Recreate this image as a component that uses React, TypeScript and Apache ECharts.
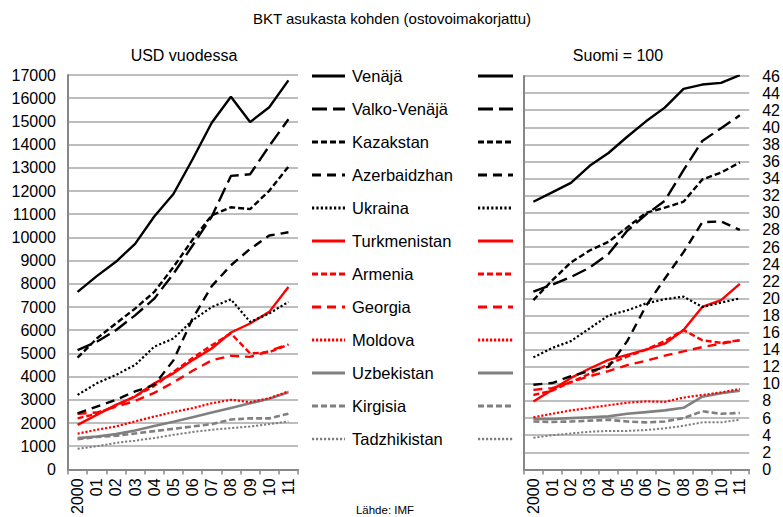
import React, { useEffect, useRef } from "react";
import * as echarts from "echarts";

const years = ["2000", "01", "02", "03", "04", "05", "06", "07", "08", "09", "10", "11"];
const countries = [
  "Venäjä", "Valko-Venäjä", "Kazakstan", "Azerbaidzhan", "Ukraina", "Turkmenistan",
  "Armenia", "Georgia", "Moldova", "Uzbekistan", "Kirgisia", "Tadzhikistan",
];

// USD vuodessa
const usdVenaja = [7650, 8330, 8950, 9720, 10900, 11870, 13370, 14940, 16060, 14970, 15610, 16770];
const usdValko = [5140, 5500, 6000, 6640, 7360, 8430, 9650, 10900, 12650, 12720, 13940, 15090];
const usdKazak = [4815, 5640, 6290, 6930, 7650, 8720, 9900, 10950, 11300, 11220, 12010, 13050];
const usdAzer = [2420, 2710, 3000, 3360, 3640, 4700, 6500, 7900, 8800, 9500, 10080, 10220];
const usdUkraina = [3210, 3710, 4070, 4500, 5290, 5640, 6430, 7000, 7330, 6360, 6720, 7220];
const usdTurkm = [1920, 2350, 2780, 3140, 3710, 4140, 4710, 5210, 5900, 6290, 6790, 7860];
const usdArmenia = [2200, 2400, 2750, 3150, 3600, 4200, 4800, 5350, 5860, 5000, 5050, 5380];
const usdGeorgia = [2400, 2450, 2700, 2950, 3300, 3750, 4250, 4700, 4900, 4850, 5100, 5400];
const usdMoldova = [1540, 1710, 1850, 2070, 2280, 2470, 2640, 2850, 3000, 2900, 3070, 3360];
const usdUzbek = [1350, 1420, 1520, 1680, 1870, 2050, 2250, 2450, 2650, 2850, 3050, 3330];
const usdKirg = [1300, 1400, 1450, 1550, 1650, 1750, 1850, 1950, 2150, 2200, 2200, 2400];
const usdTadz = [890, 1000, 1140, 1240, 1350, 1490, 1610, 1710, 1780, 1850, 1950, 2070];

// Suomi = 100
const fiVenaja = [31.3, 32.4, 33.5, 35.5, 37.0, 38.9, 40.7, 42.3, 44.5, 45.0, 45.2, 46.1];
const fiValko = [20.8, 21.6, 22.5, 23.6, 25.2, 27.9, 29.8, 31.4, 35.0, 38.4, 39.9, 41.4];
const fiKazak = [19.8, 22.1, 24.2, 25.6, 26.6, 28.3, 30.0, 30.6, 31.3, 33.9, 34.7, 35.9];
const fiAzer = [9.9, 10.1, 10.9, 11.5, 12.0, 15.0, 19.1, 22.3, 25.4, 28.9, 29.0, 28.0];
const fiUkraina = [13.1, 14.2, 15.0, 16.5, 18.0, 18.6, 19.4, 19.9, 20.2, 19.0, 19.5, 20.0];
const fiTurkm = [7.95, 9.3, 10.7, 11.8, 12.8, 13.4, 14.0, 14.7, 16.3, 19.0, 19.8, 21.7];
const fiArmenia = [8.7, 9.2, 10.2, 11.2, 12.3, 13.2, 14.0, 15.0, 16.3, 15.1, 14.8, 15.1];
const fiGeorgia = [9.3, 9.5, 10.2, 10.9, 11.5, 12.2, 12.7, 13.3, 13.8, 14.3, 14.7, 15.1];
const fiMoldova = [6.1, 6.5, 6.9, 7.2, 7.5, 7.8, 7.95, 7.9, 8.4, 8.7, 9.0, 9.4];
const fiUzbek = [5.9, 5.9, 6.0, 6.1, 6.2, 6.5, 6.7, 6.9, 7.2, 8.5, 8.9, 9.2];
const fiKirg = [5.6, 5.55, 5.6, 5.7, 5.8, 5.6, 5.5, 5.6, 6.0, 6.8, 6.5, 6.6];
const fiTadz = [3.7, 4.0, 4.2, 4.4, 4.5, 4.5, 4.6, 4.8, 5.1, 5.5, 5.5, 5.8];

const usdData = [usdVenaja, usdValko, usdKazak, usdAzer, usdUkraina, usdTurkm, usdArmenia, usdGeorgia, usdMoldova, usdUzbek, usdKirg, usdTadz];
const fiData = [fiVenaja, fiValko, fiKazak, fiAzer, fiUkraina, fiTurkm, fiArmenia, fiGeorgia, fiMoldova, fiUzbek, fiKirg, fiTadz];

const BLACK = "#000000";
const RED = "#FF0000";
const GREY = "#808080";
const styles: { color: string; dash: number[] | "solid"; width: number }[] = [
  { color: BLACK, dash: "solid", width: 2.4 },
  { color: BLACK, dash: [15, 6], width: 2.4 },
  { color: BLACK, dash: [6, 3], width: 2.4 },
  { color: BLACK, dash: [9, 6], width: 2.4 },
  { color: BLACK, dash: [2.2, 2.2], width: 2.2 },
  { color: RED, dash: "solid", width: 2.4 },
  { color: RED, dash: [6, 3], width: 2.4 },
  { color: RED, dash: [9, 6], width: 2.4 },
  { color: RED, dash: [2.2, 1.8], width: 2.2 },
  { color: GREY, dash: "solid", width: 2.6 },
  { color: GREY, dash: [6, 3], width: 2.6 },
  { color: GREY, dash: [2.2, 1.8], width: 2.0 },
];

const FONT = "'Liberation Sans', Arial, sans-serif";

export default function App() {
  const ref = useRef<HTMLDivElement>(null);
  useEffect(() => {
    if (!ref.current) return;
    const chart = echarts.init(ref.current, null, { renderer: "svg" });
    const gridColor = "#A8A8A8";
    const axisColor = "#888888";

    const series: any[] = [];
    countries.forEach((name, i) => {
      const st = styles[i];
      series.push({
        type: "line", name, xAxisIndex: 0, yAxisIndex: 0, data: usdData[i],
        symbol: "none", lineStyle: { color: st.color, width: st.width, type: st.dash },
        z: 20 - i,
      });
      series.push({
        type: "line", name, xAxisIndex: 1, yAxisIndex: 1, data: fiData[i],
        symbol: "none", lineStyle: { color: st.color, width: st.width, type: st.dash },
        z: 20 - i,
      });
    });

    const graphics: any[] = [];
    countries.forEach((name, i) => {
      const st = styles[i];
      const y = 76 + 33 * i;
      const ls = { stroke: st.color, lineWidth: st.width + 0.6, lineDash: st.dash === "solid" ? null : st.dash };
      graphics.push({ type: "line", shape: { x1: 312, y1: y, x2: 345, y2: y }, style: ls });
      graphics.push({ type: "line", shape: { x1: 478, y1: y, x2: 513, y2: y }, style: ls });
      graphics.push({
        type: "text", x: 352, y, style: { text: name, fill: "#000", font: `16.5px ${FONT}`, textVerticalAlign: "middle", verticalAlign: "middle" },
      });
    });
    const centered = (text: string, x: number, y: number, size: number) => ({
      type: "text", x, y,
      style: { text, fill: "#000", font: `${size}px ${FONT}`, align: "center", verticalAlign: "middle", textAlign: "center", textVerticalAlign: "middle" },
    });
    graphics.push(centered("BKT asukasta kohden (ostovoimakorjattu)", 392, 18, 15));
    graphics.push(centered("USD vuodessa", 184, 55, 16));
    graphics.push(centered("Suomi = 100", 618, 55, 16));
    graphics.push(centered("Lähde: IMF", 385, 510, 11.5));

    const xAxisCommon = {
      type: "category",
      data: years,
      boundaryGap: true,
      axisLine: { show: true, lineStyle: { color: axisColor, width: 2 } },
      axisTick: { show: true, length: 5, lineStyle: { color: axisColor, width: 1.5 } },
      axisLabel: { rotate: 90, interval: 0, margin: 9, color: "#000", fontSize: 16, fontFamily: FONT },
      splitLine: { show: false },
    };

    chart.setOption({
      animation: false,
      backgroundColor: "#ffffff",
      grid: [
        { left: 68, top: 75, width: 230, height: 396.5, containLabel: false },
        { left: 524, top: 76, width: 231, height: 395.7, containLabel: false },
      ],
      xAxis: [
        { ...xAxisCommon, gridIndex: 0 },
        { ...xAxisCommon, gridIndex: 1 },
      ],
      yAxis: [
        {
          type: "value", gridIndex: 0, min: 0, max: 17000, interval: 1000, position: "left",
          axisLine: { show: true, lineStyle: { color: axisColor, width: 2 } },
          axisTick: { show: false },
          axisLabel: { color: "#000", fontSize: 16, fontFamily: FONT, margin: 12, formatter: (v: number) => String(v) },
          splitLine: { show: true, lineStyle: { color: gridColor, width: 1.5 } },
        },
        {
          type: "value", gridIndex: 1, min: 0, max: 46, interval: 2, position: "right",
          axisLine: { show: false },
          axisTick: { show: false },
          axisLabel: { color: "#000", fontSize: 16, fontFamily: FONT, margin: 13, formatter: (v: number) => String(v) },
          splitLine: { show: true, lineStyle: { color: gridColor, width: 1.5 } },
        },
        {
          type: "value", gridIndex: 1, min: 0, max: 46, interval: 2, position: "left",
          axisLine: { show: true, onZero: false, lineStyle: { color: axisColor, width: 2 } },
          axisTick: { show: false },
          axisLabel: { show: false },
          splitLine: { show: false },
        },
      ],
      series,
      graphic: graphics,
    });
    return () => chart.dispose();
  }, []);
  return (
    <div
      ref={ref}
      style={{ position: "fixed", left: 0, top: 0, width: 783, height: 517, background: "#fff" }}
    />
  );
}
